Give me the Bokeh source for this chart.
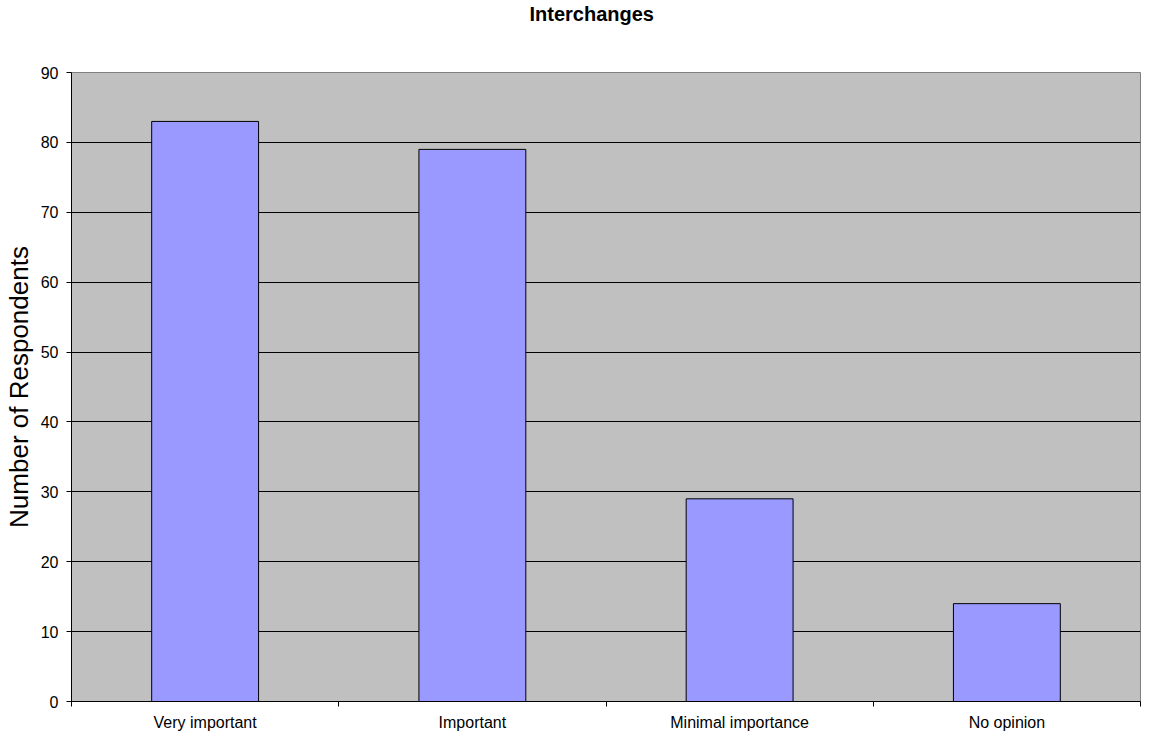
import numpy as np
from bokeh.plotting import figure
from bokeh.models import Range1d, FixedTicker, ColumnDataSource, Title
from bokeh.embed import file_html
from bokeh.resources import INLINE

categories = ["Very important", "Important", "Minimal importance", "No opinion"]
values = [83, 79, 29, 14]
y_ticks = [0, 10, 20, 30, 40, 50, 60, 70, 80, 90]
title_text = "Interchanges"

n = len(categories)
centers = np.arange(n) + 0.5
src = ColumnDataSource(dict(x=centers, top=values, cat=categories))

FONT = "Liberation Sans"

p = figure(frame_width=1069, frame_height=629, output_backend="svg", toolbar_location=None,
           x_range=Range1d(0, n), y_range=Range1d(y_ticks[0], y_ticks[-1]),
           min_border_left=63, min_border_right=1, min_border_top=72, min_border_bottom=31)
p.title = None

p.border_fill_color = "white"
p.background_fill_color = "#C0C0C0"
p.outline_line_color = "#808080"
p.outline_line_width = 1

p.vbar(x="x", top="top", bottom=0, width=0.4, source=src,
       fill_color="#9999FF", line_color="black", line_width=1)

# spacer (closest to the frame) then the real title above it
p.add_layout(Title(text=" ", text_font_size="1px", standoff=45), "above")
p.add_layout(Title(text=title_text, text_font=FONT, text_font_size="20px",
                   text_font_style="bold", text_color="black", align="left",
                   offset=458, standoff=0), "above")

# x axis
xa = p.xaxis[0]
xa.ticker = FixedTicker(ticks=list(centers), minor_ticks=list(np.arange(n + 1)))
xa.major_label_overrides = {float(c): cat for c, cat in zip(centers, categories)}
xa.major_tick_out = 0
xa.major_tick_in = 0
xa.minor_tick_out = 5
xa.minor_tick_in = 0
xa.minor_tick_line_color = "black"
xa.axis_line_color = "black"
xa.major_label_text_font = FONT
xa.major_label_text_font_size = "16px"
xa.major_label_text_color = "black"
xa.major_label_standoff = 7

# y axis
ya = p.yaxis[0]
ya.ticker = FixedTicker(ticks=y_ticks, minor_ticks=[])
ya.major_tick_out = 5
ya.major_tick_in = 0
ya.major_tick_line_color = "black"
ya.axis_line_color = "black"
ya.major_label_text_font = FONT
ya.major_label_text_font_size = "16px"
ya.major_label_text_color = "black"
ya.major_label_standoff = 8
ya.axis_label = "Number of Respondents"
ya.axis_label_text_font = FONT
ya.axis_label_text_font_size = "26px"
ya.axis_label_text_font_style = "normal"
ya.axis_label_text_color = "black"
ya.axis_label_standoff = 4

p.xgrid.visible = False
p.ygrid.ticker = FixedTicker(ticks=y_ticks[1:-1])
p.ygrid.grid_line_color = "black"
p.ygrid.grid_line_width = 1
p.ygrid.grid_line_alpha = 1.0

open("out.html", "w").write(file_html(p, INLINE))
